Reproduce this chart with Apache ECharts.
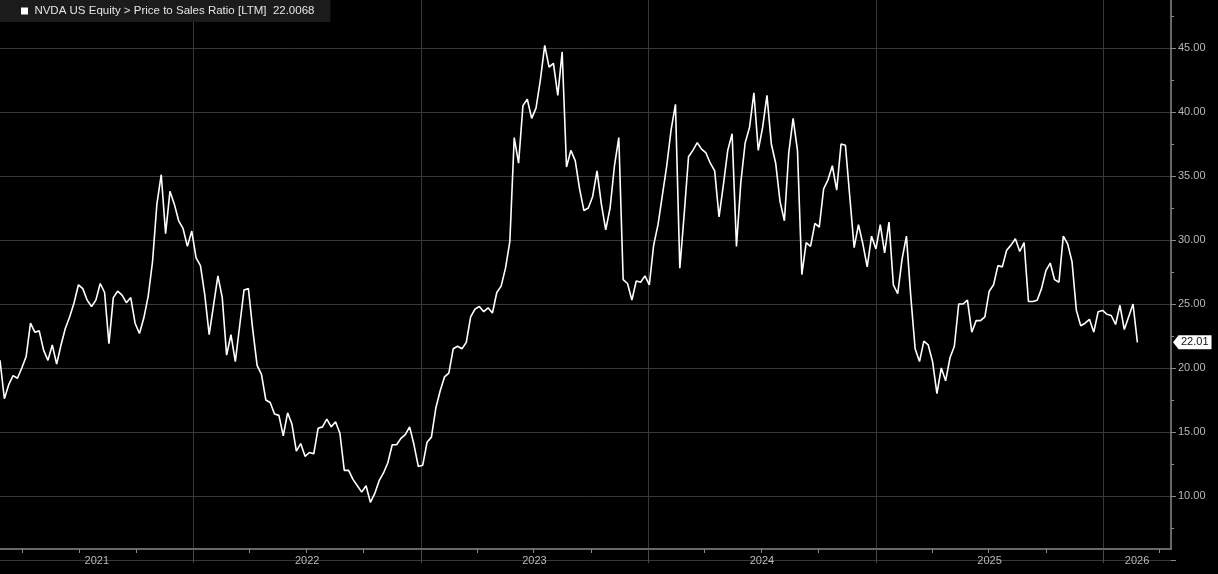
<!DOCTYPE html>
<html>
<head>
<meta charset="utf-8">
<script src="https://cdn.jsdelivr.net/npm/echarts@6/dist/echarts.min.js"></script>
<style>
html,body{margin:0;padding:0;background:#000;}
#chart{width:1218px;height:574px;}
</style>
</head>
<body>
<div id="chart"></div>
<script>
// ---- data ----
const seriesName = 'NVDA US Equity > Price to Sales Ratio [LTM]';
const startDate = [2021, 2, 24];   // first weekly observation (y, m, d)
const stepDays = 7;                 // weekly observations
const values = [
  20.6, 17.6, 18.7, 19.4, 19.2, 20.0, 20.9, 23.5, 22.8, 22.9,
  21.4, 20.6, 21.8, 20.3, 21.8, 23.1, 24.0, 25.1, 26.5, 26.2,
  25.3, 24.8, 25.3, 26.6, 25.9, 21.9, 25.5, 26.0, 25.7, 25.1,
  25.5, 23.5, 22.7, 23.9, 25.6, 28.3, 32.8, 35.1, 30.5, 33.8,
  32.8, 31.5, 30.9, 29.5, 30.7, 28.6, 28.0, 25.7, 22.6, 24.9,
  27.2, 25.5, 21.0, 22.6, 20.5, 23.3, 26.1, 26.2, 23.0, 20.2,
  19.5, 17.5, 17.3, 16.4, 16.3, 14.7, 16.5, 15.6, 13.5, 14.1,
  13.1, 13.4, 13.3, 15.3, 15.4, 16.0, 15.4, 15.8, 14.9, 12.0,
  12.0, 11.3, 10.8, 10.3, 10.8, 9.5, 10.2, 11.2, 11.8, 12.6,
  14.0, 14.0, 14.5, 14.8, 15.4, 14.0, 12.3, 12.4, 14.2, 14.6,
  16.85, 18.2, 19.3, 19.6, 21.5, 21.7, 21.5, 22.0, 24.0, 24.6,
  24.8, 24.4, 24.7, 24.3, 25.9, 26.4, 27.8, 29.9, 38.0, 36.0,
  40.5, 41.0, 39.5, 40.3, 42.5, 45.2, 43.5, 43.8, 41.3, 44.7,
  35.7, 37.0, 36.2, 34.0, 32.3, 32.5, 33.4, 35.4, 32.8, 30.8,
  32.5, 35.8, 38.0, 26.9, 26.6, 25.3, 26.8, 26.7, 27.2, 26.5,
  29.6, 31.2, 33.5, 35.8, 38.6, 40.6, 27.8, 32.0, 36.5, 37.0,
  37.6, 37.1, 36.8, 36.0, 35.4, 31.8, 34.3, 37.0, 38.3, 29.5,
  34.5, 37.6, 38.8, 41.5, 37.0, 38.8, 41.3, 37.5, 36.0, 33.0,
  31.5, 36.8, 39.5, 37.0, 27.3, 29.8, 29.5, 31.3, 31.0, 34.0,
  34.7, 35.8, 33.9, 37.5, 37.4, 33.4, 29.4, 31.2, 29.7, 27.9,
  30.3, 29.3, 31.2, 29.0, 31.4, 26.5, 25.8, 28.5, 30.3, 25.6,
  21.5, 20.5, 22.1, 21.8, 20.5, 18.0, 20.0, 19.0, 20.8, 21.7,
  25.0, 25.0, 25.3, 22.8, 23.7, 23.7, 24.0, 26.0, 26.5, 28.0,
  27.9, 29.2, 29.6, 30.1, 29.1, 29.8, 25.2, 25.2, 25.3, 26.2,
  27.6, 28.2, 26.9, 26.7, 30.3, 29.7, 28.3, 24.5, 23.3, 23.5,
  23.8, 22.8, 24.4, 24.5, 24.2, 24.1, 23.4, 24.9, 23.0, 24.0,
  25.0, 22.0068
];
const xRange = ['2021-02-24', '2026-04-20'];
const yearLabels = ['2021', '2022', '2023', '2024', '2025', '2026'];
const yTickValues = [10, 15, 20, 25, 30, 35, 40, 45];

// ---- helpers ----
function utc(s) { const p = s.split('-').map(Number); return Date.UTC(p[0], p[1] - 1, p[2]); }
const DAY = 86400000;
const t0 = Date.UTC(startDate[0], startDate[1] - 1, startDate[2]);
const lineData = values.map((v, i) => [t0 + i * stepDays * DAY, v]);
const xMin = utc(xRange[0]), xMax = utc(xRange[1]);
const lastValue = values[values.length - 1];

const years = yearLabels.map(Number);
const yearStarts = years.slice(1).map(y => Date.UTC(y, 0, 1));
const quarterTicks = [];
years.forEach(y => [3, 6, 9].forEach(m => {
  const t = Date.UTC(y, m, 1);
  if (t > xMin && t < xMax) quarterTicks.push(t);
}));
const labelPos = years.map(y => {
  const a = Math.max(Date.UTC(y, 0, 1), xMin);
  const b = Math.min(Date.UTC(y + 1, 0, 1), xMax);
  return (a + b) / 2;
});

const yMin = yTickValues[0] - 5, yMax = yTickValues[yTickValues.length - 1] + 5;

const chart = echarts.init(document.getElementById('chart'), null, { renderer: 'canvas' });
const gridColor = '#383838';
const axisColor = '#8a8a8a';
const labelColor = '#b8b8b8';
const font = 'Liberation Sans';

chart.setOption({
  backgroundColor: '#000',
  animation: false,
  title: {
    text: '{sq|}  ' + seriesName + '  ' + lastValue.toFixed(4),
    left: 0, top: 0,
    backgroundColor: '#1b1b1b',
    padding: [5, 16, 5, 21],
    textStyle: {
      color: '#e4e4e4', fontSize: 11.5, fontFamily: font, fontWeight: 'normal',
      rich: { sq: { width: 7, height: 7, backgroundColor: '#ffffff' } }
    }
  },
  grid: [
    { left: 0, right: 47, top: -16, bottom: 14, containLabel: false, outerBoundsMode: 'none' },
    { left: 0, right: 47, top: 0, bottom: 25, containLabel: false, outerBoundsMode: 'none' }
  ],
  xAxis: [
    {
      type: 'value', gridIndex: 0, min: xMin, max: xMax, position: 'bottom', offset: -11,
      axisLine: { show: true, lineStyle: { color: axisColor, width: 1.5 } },
      axisTick: { show: true, customValues: yearStarts, length: 14, inside: false,
        lineStyle: { color: '#4a4a4a', width: 1 } },
      axisLabel: { show: false },
      splitLine: { show: true, lineStyle: { color: gridColor, width: 1 } }
    },
    {
      type: 'value', gridIndex: 0, min: xMin, max: xMax, position: 'bottom', offset: -11,
      axisLine: { show: false },
      axisTick: { show: true, customValues: quarterTicks, length: 4,
        lineStyle: { color: axisColor, width: 1 } },
      axisLabel: { show: true, customValues: labelPos, margin: 6,
        color: labelColor, fontSize: 11, fontFamily: font,
        formatter: v => String(new Date(v).getUTCFullYear()) },
      splitLine: { show: false }
    },
    {
      type: 'value', gridIndex: 1, min: xMin, max: xMax, show: false
    }
  ],
  yAxis: [
    {
      type: 'value', gridIndex: 0, position: 'right', min: yMin, max: yMax, interval: 5,
      axisLine: { show: false },
      axisTick: { show: true, length: 5, lineStyle: { color: axisColor } },
      minorTick: { show: true, splitNumber: 2, length: 3, lineStyle: { color: axisColor } },
      axisLabel: { margin: 7, color: labelColor, fontSize: 11, fontFamily: font,
        formatter: v => (yTickValues.indexOf(v) >= 0 ? v.toFixed(2) : '') },
      splitLine: { show: true, lineStyle: { color: gridColor, width: 1 } }
    },
    {
      type: 'value', gridIndex: 1, position: 'right', min: 0, max: 1,
      axisLine: { show: true, lineStyle: { color: axisColor, width: 1.5 } },
      axisTick: { show: false }, axisLabel: { show: false }, splitLine: { show: false }
    }
  ],
  series: [{
    name: seriesName,
    type: 'line',
    xAxisIndex: 0, yAxisIndex: 0,
    data: lineData,
    showSymbol: false,
    symbol: 'none',
    lineStyle: { color: '#ffffff', width: 1.6 },
    markLine: {
      silent: true,
      symbol: ['none', 'path://M0,5L6,0L6,10Z'],
      symbolSize: [6, 15],
      symbolRotate: 0,
      symbolOffset: [[0, 0], [5, 0]],
      lineStyle: { width: 0, color: '#ffffff', type: 'solid' },
      label: {
        show: true, position: 'end', distance: 8,
        formatter: p => Number(p.value).toFixed(2),
        backgroundColor: '#ffffff', color: '#111', fontSize: 11, fontFamily: font,
        padding: [2, 3, 1, 2]
      },
      data: [{ yAxis: lastValue }]
    }
  }]
});
</script>
</body>
</html>
